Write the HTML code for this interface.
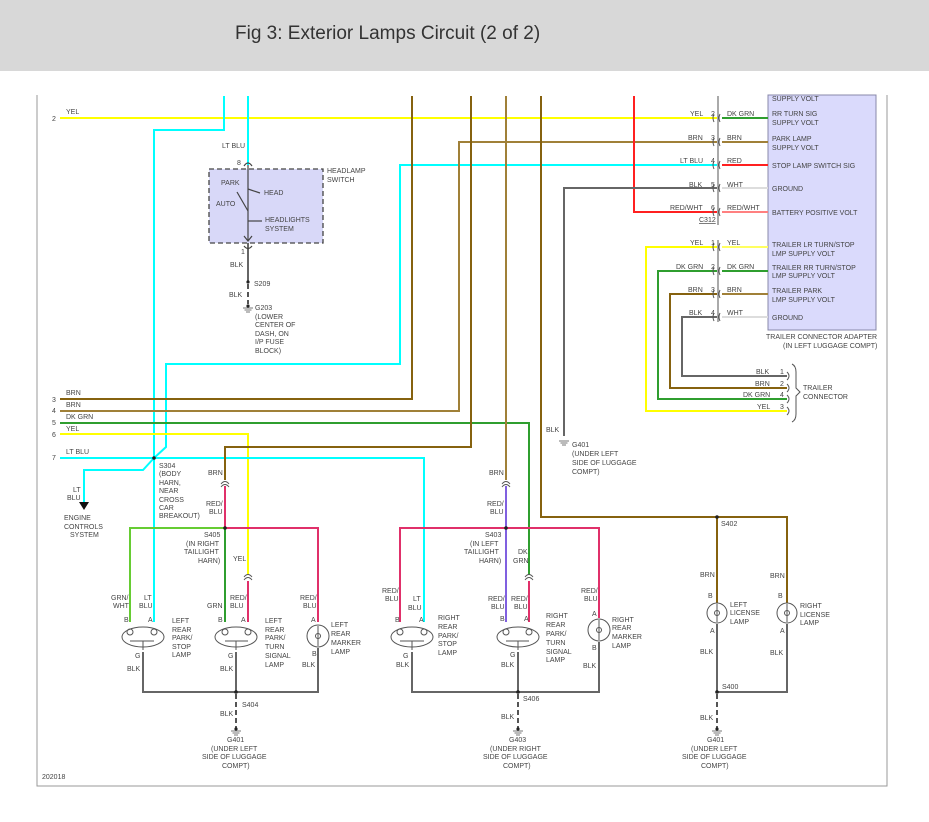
<!DOCTYPE html>
<html><head><meta charset="utf-8"><style>
html,body{margin:0;padding:0;background:#fff;}
svg{display:block;}
text{font-family:"Liberation Sans",sans-serif;font-size:7px;fill:#444;}
.t{font-size:19px;fill:#333;}
</style></head><body>
<svg width="929" height="822" viewBox="0 0 929 822" xmlns="http://www.w3.org/2000/svg">
<rect x="0" y="0" width="929" height="71" fill="#d8d8d8"/>
<text class="t" x="235" y="39">Fig 3: Exterior Lamps Circuit (2 of 2)</text>
<!-- frame -->
<path d="M37 95 V786 H887 V95" fill="none" stroke="#999" stroke-width="1"/>

<!-- trailer adapter box -->
<rect x="768" y="95" width="108" height="235" fill="#dadafc" stroke="#8888aa" stroke-width="1"/>

<g fill="none" stroke-width="2">
<!-- row 2 yellow -->
<path d="M60 118 H717" stroke="#ffff00"/>
<!-- LT BLU big -->
<path d="M224 96 V130 H154 V622" stroke="#00ffff"/>
<path d="M248 96 V165" stroke="#00ffff"/>
<!-- cyan from stop lamp -->
<path d="M717 165 H400 V364 H166 V447 L154 458" stroke="#00ffff"/>
<!-- row 3 BRN -->
<path d="M412 96 V399 H60" stroke="#86620f"/>
<!-- row 4 BRN -->
<path d="M717 142 H459 V411 H60" stroke="#a08038"/>
<!-- row 5 DK GRN -->
<path d="M60 423 H529 V575" stroke="#2f9e2f"/>
<!-- row 6 YEL -->
<path d="M60 434 H248 V575" stroke="#ffff00"/>
<!-- row 7 LT BLU -->
<path d="M60 458 H424 V622" stroke="#00ffff"/>
<path d="M154 458 L143 470 H84 V502" stroke="#00ffff"/>
<!-- BRN to left taillight -->
<path d="M471 96 V447 H225 V480" stroke="#86620f"/>
<path d="M506 96 V480" stroke="#a08038"/>
<path d="M541 96 V517 H787 V603" stroke="#86620f"/>
<path d="M717 517 V603" stroke="#86620f"/>
<!-- red battery -->
<path d="M634 96 V212 H717" stroke="#ff2020"/>
<!-- BLK ground -->
<path d="M717 188 H564 V436" stroke="#666"/>
<!-- lower connectors -->
<path d="M717 247 H646 V411 H787" stroke="#ffff00"/>
<path d="M717 271 H658 V399 H787" stroke="#2f9e2f"/>
<path d="M717 294 H670 V388 H787" stroke="#86620f"/>
<path d="M717 317 H682 V376 H787" stroke="#666"/>
<!-- right of C312 -->
<path d="M722 118 H768" stroke="#2f9e2f"/>
<path d="M722 142 H768" stroke="#a08038"/>
<path d="M722 165 H768" stroke="#ff2020"/>
<path d="M722 188 H768" stroke="#ddd"/>
<path d="M722 212 H768" stroke="#ff8080"/>
<path d="M722 247 H768" stroke="#ffff60"/>
<path d="M722 271 H768" stroke="#2f9e2f"/>
<path d="M722 294 H768" stroke="#a08038"/>
<path d="M722 317 H768" stroke="#ddd"/>
<!-- left taillight harness -->
<path d="M225 486 V528" stroke="#e0306a"/>
<path d="M225 528 H130 V622" stroke="#66cc33"/>
<path d="M225 528 V622" stroke="#2f9e2f"/>
<path d="M225 528 H318 V622" stroke="#e0306a"/>
<path d="M248 581 V622" stroke="#e0306a"/>
<!-- right taillight harness -->
<path d="M506 486 V622" stroke="#8060e0"/>
<path d="M506 528 H400 V622" stroke="#e0306a"/>
<path d="M506 528 H599 V618" stroke="#e0306a"/>
<path d="M529 581 V622" stroke="#e0306a"/>
<!-- grounds -->
<path d="M143 652 V692 H318 V648" stroke="#666"/>
<path d="M236 652 V692" stroke="#666"/>
<path d="M412 652 V692 H599 V642" stroke="#666"/>
<path d="M518 652 V692" stroke="#666"/>
<path d="M717 624 V692 H787 V624" stroke="#666"/>
<path d="M248 243 V282" stroke="#666"/>
</g>
<!-- dashed ground leads -->
<g stroke="#555" stroke-width="2" stroke-dasharray="5,3" fill="none">
<path d="M248 284 V304"/><path d="M236 694 V728"/><path d="M518 694 V728"/><path d="M717 694 V728"/>
</g>
<!-- headlamp switch -->
<rect x="209" y="169" width="114" height="74" fill="#d8d8f8" stroke="#444" stroke-width="1.3" stroke-dasharray="5,3"/>
<g stroke="#444" stroke-width="1.2" fill="none">
<path d="M248 165 V240"/><path d="M248 189 L260 193"/><path d="M237 192 L248 211"/><path d="M248 221 H262"/>
<path d="M244 236 L248 241 L252 236"/><path d="M244 166 Q248 160 252 166"/><path d="M244 246 Q248 251 252 246"/>
</g>
<!-- ground symbols -->
<g stroke="#777" stroke-width="1">
<path d="M243 308 H253 M244.5 310 H251.5 M246 312 H250"/>
<path d="M231 731 H241 M232.5 733 H239.5 M234 735 H238"/>
<path d="M513 731 H523 M514.5 733 H521.5 M516 735 H520"/>
<path d="M712 731 H722 M713.5 733 H720.5 M715 735 H719"/>
<path d="M559 441 H569 M560.5 443 H567.5 M562 445 H566"/>
</g>
<!-- dots -->
<g fill="#222">
<circle cx="248" cy="282" r="1.6"/><circle cx="248" cy="306" r="1.6"/><circle cx="154" cy="458" r="1.8"/>
<circle cx="225" cy="528" r="1.8"/><circle cx="506" cy="528" r="1.8"/><circle cx="717" cy="517" r="1.8"/>
<circle cx="236" cy="692" r="1.8"/><circle cx="518" cy="692" r="1.8"/><circle cx="717" cy="692" r="1.8"/>
<circle cx="236" cy="729" r="1.6"/><circle cx="518" cy="729" r="1.6"/><circle cx="717" cy="729" r="1.6"/>
</g>
<path d="M79 502 H89 L84 510 Z" fill="#111"/>
<!-- inline connector arcs -->
<g stroke="#555" stroke-width="1" fill="none">
<path d="M221 484 Q225 479 229 484 M221 487 Q225 482 229 487"/>
<path d="M502 484 Q506 479 510 484 M502 487 Q506 482 510 487"/>
<path d="M244 577 Q248 572 252 577 M244 580 Q248 575 252 580"/>
<path d="M525 577 Q529 572 533 577 M525 580 Q529 575 533 580"/>
<!-- C312 stack -->
<path d="M718 96 V225"/><path d="M718 240 V322"/>
<path d="M714 114 Q712 118 714 122 M720 114 Q718 118 720 122"/>
<path d="M714 138 Q712 142 714 146 M720 138 Q718 142 720 146"/>
<path d="M714 161 Q712 165 714 169 M720 161 Q718 165 720 169"/>
<path d="M714 184 Q712 188 714 192 M720 184 Q718 188 720 192"/>
<path d="M714 208 Q712 212 714 216 M720 208 Q718 212 720 216"/>
<path d="M714 243 Q712 247 714 251 M720 243 Q718 247 720 251"/>
<path d="M714 267 Q712 271 714 275 M720 267 Q718 271 720 275"/>
<path d="M714 290 Q712 294 714 298 M720 290 Q718 294 720 298"/>
<path d="M714 313 Q712 317 714 321 M720 313 Q718 317 720 321"/>
<!-- trailer connector -->
<path d="M787 372 Q791 376 787 380 M787 384 Q791 388 787 392 M787 395 Q791 399 787 403 M787 407 Q791 411 787 415"/>
<path d="M792 364 Q796 366 796 372 V388 L800 392 L796 396 V414 Q796 420 792 422"/>
</g>
<!-- lamps -->
<g stroke="#555" stroke-width="1" fill="none">
<ellipse cx="143" cy="637" rx="21" ry="10"/><ellipse cx="236" cy="637" rx="21" ry="10"/>
<ellipse cx="412" cy="637" rx="21" ry="10"/><ellipse cx="518" cy="637" rx="21" ry="10"/>
<circle cx="318" cy="636" r="11"/><circle cx="599" cy="630" r="11"/>
<circle cx="717" cy="613" r="10"/><circle cx="787" cy="613" r="10"/>
<circle cx="130" cy="632" r="3"/><circle cx="154" cy="632" r="3"/><path d="M130 641 H154 M143 641 V650"/>
<circle cx="225" cy="632" r="3"/><circle cx="248" cy="632" r="3"/><path d="M225 641 H248 M236 641 V650"/>
<circle cx="400" cy="632" r="3"/><circle cx="424" cy="632" r="3"/><path d="M400 641 H424 M412 641 V650"/>
<circle cx="506" cy="632" r="3"/><circle cx="529" cy="632" r="3"/><path d="M506 641 H529 M518 641 V650"/>
<path d="M318 626 V646"/><path d="M599 620 V640"/><path d="M717 604 V622"/><path d="M787 604 V622"/>
<circle cx="318" cy="636" r="2.5"/><circle cx="599" cy="630" r="2.5"/><circle cx="717" cy="613" r="2.5"/><circle cx="787" cy="613" r="2.5"/>
</g>
<!-- labels -->
<text x="52" y="121">2</text><text x="66" y="114">YEL</text>
<text x="52" y="402">3</text><text x="66" y="395">BRN</text>
<text x="52" y="413">4</text><text x="66" y="407">BRN</text>
<text x="52" y="425">5</text><text x="66" y="419">DK GRN</text>
<text x="52" y="437">6</text><text x="66" y="431">YEL</text>
<text x="52" y="460">7</text><text x="66" y="454">LT BLU</text>
<text x="222" y="148">LT BLU</text><text x="237" y="165">8</text>
<text x="327" y="173">HEADLAMP</text><text x="327" y="182">SWITCH</text>
<text x="221" y="185">PARK</text><text x="264" y="195">HEAD</text><text x="216" y="206">AUTO</text>
<text x="265" y="222">HEADLIGHTS</text><text x="265" y="231">SYSTEM</text>
<text x="241" y="254">1</text><text x="230" y="267">BLK</text><text x="254" y="286">S209</text>
<text x="229" y="297">BLK</text><text x="255" y="310">G203</text><text x="255" y="319">(LOWER</text>
<text x="255" y="327">CENTER OF</text><text x="255" y="336">DASH, ON</text><text x="255" y="344">I/P FUSE</text><text x="255" y="353">BLOCK)</text>
<text x="159" y="468">S304</text><text x="159" y="476">(BODY</text><text x="159" y="485">HARN,</text><text x="159" y="493">NEAR</text>
<text x="159" y="502">CROSS</text><text x="159" y="510">CAR</text><text x="159" y="518">BREAKOUT)</text>
<text x="73" y="492">LT</text><text x="67" y="500">BLU</text>
<text x="64" y="520">ENGINE</text><text x="64" y="529">CONTROLS</text><text x="70" y="537">SYSTEM</text>
<text x="208" y="475">BRN</text><text x="206" y="506">RED/</text><text x="209" y="514">BLU</text>
<text x="204" y="537">S405</text><text x="186" y="546">(IN RIGHT</text><text x="184" y="554">TAILLIGHT</text><text x="198" y="563">HARN)</text>
<text x="233" y="561">YEL</text>
<text x="111" y="600">GRN/</text><text x="113" y="608">WHT</text><text x="144" y="600">LT</text><text x="139" y="608">BLU</text>
<text x="207" y="608">GRN</text><text x="230" y="600">RED/</text><text x="230" y="608">BLU</text>
<text x="300" y="600">RED/</text><text x="303" y="608">BLU</text>
<text x="124" y="622">B</text><text x="148" y="622">A</text><text x="218" y="622">B</text><text x="241" y="622">A</text><text x="311" y="622">A</text>
<text x="172" y="623">LEFT</text><text x="172" y="632">REAR</text><text x="172" y="640">PARK/</text><text x="172" y="649">STOP</text><text x="172" y="657">LAMP</text>
<text x="265" y="623">LEFT</text><text x="265" y="632">REAR</text><text x="265" y="640">PARK/</text><text x="265" y="649">TURN</text><text x="265" y="658">SIGNAL</text><text x="265" y="667">LAMP</text>
<text x="331" y="627">LEFT</text><text x="331" y="636">REAR</text><text x="331" y="645">MARKER</text><text x="331" y="654">LAMP</text>
<text x="135" y="658">G</text><text x="228" y="658">G</text><text x="312" y="656">B</text>
<text x="127" y="671">BLK</text><text x="220" y="671">BLK</text><text x="302" y="667">BLK</text>
<text x="242" y="707">S404</text><text x="220" y="716">BLK</text>
<text x="227" y="742">G401</text><text x="211" y="751">(UNDER LEFT</text><text x="202" y="759">SIDE OF LUGGAGE</text><text x="222" y="768">COMPT)</text>
<text x="489" y="475">BRN</text><text x="487" y="506">RED/</text><text x="490" y="514">BLU</text>
<text x="485" y="537">S403</text><text x="470" y="546">(IN LEFT</text><text x="464" y="554">TAILLIGHT</text><text x="479" y="563">HARN)</text>
<text x="518" y="554">DK</text><text x="513" y="563">GRN</text>
<text x="382" y="593">RED/</text><text x="385" y="601">BLU</text><text x="413" y="601">LT</text><text x="408" y="610">BLU</text>
<text x="488" y="601">RED/</text><text x="491" y="609">BLU</text><text x="511" y="601">RED/</text><text x="514" y="609">BLU</text>
<text x="581" y="593">RED/</text><text x="584" y="601">BLU</text>
<text x="395" y="622">B</text><text x="419" y="622">A</text><text x="500" y="621">B</text><text x="524" y="621">A</text><text x="592" y="616">A</text>
<text x="438" y="620">RIGHT</text><text x="438" y="629">REAR</text><text x="438" y="638">PARK/</text><text x="438" y="646">STOP</text><text x="438" y="655">LAMP</text>
<text x="546" y="618">RIGHT</text><text x="546" y="627">REAR</text><text x="546" y="636">PARK/</text><text x="546" y="645">TURN</text><text x="546" y="654">SIGNAL</text><text x="546" y="662">LAMP</text>
<text x="612" y="622">RIGHT</text><text x="612" y="630">REAR</text><text x="612" y="639">MARKER</text><text x="612" y="648">LAMP</text>
<text x="403" y="658">G</text><text x="510" y="657">G</text><text x="592" y="650">B</text>
<text x="396" y="667">BLK</text><text x="501" y="667">BLK</text><text x="583" y="668">BLK</text>
<text x="523" y="701">S406</text><text x="501" y="719">BLK</text>
<text x="509" y="742">G403</text><text x="490" y="751">(UNDER RIGHT</text><text x="483" y="759">SIDE OF LUGGAGE</text><text x="503" y="768">COMPT)</text>
<text x="721" y="526">S402</text>
<text x="700" y="577">BRN</text><text x="770" y="578">BRN</text>
<text x="708" y="598">B</text><text x="778" y="598">B</text><text x="710" y="633">A</text><text x="780" y="633">A</text>
<text x="730" y="607">LEFT</text><text x="730" y="615">LICENSE</text><text x="730" y="624">LAMP</text>
<text x="800" y="608">RIGHT</text><text x="800" y="617">LICENSE</text><text x="800" y="625">LAMP</text>
<text x="700" y="654">BLK</text><text x="770" y="655">BLK</text>
<text x="722" y="689">S400</text><text x="700" y="720">BLK</text>
<text x="707" y="742">G401</text><text x="691" y="751">(UNDER LEFT</text><text x="682" y="759">SIDE OF LUGGAGE</text><text x="701" y="768">COMPT)</text>
<text x="546" y="432">BLK</text>
<text x="572" y="447">G401</text><text x="572" y="456">(UNDER LEFT</text><text x="572" y="465">SIDE OF LUGGAGE</text><text x="572" y="474">COMPT)</text>
<text x="42" y="779">202018</text>
<!-- C312 labels -->
<text x="690" y="116">YEL</text><text x="711" y="116">2</text><text x="727" y="116">DK GRN</text>
<text x="688" y="140">BRN</text><text x="711" y="140">3</text><text x="727" y="140">BRN</text>
<text x="680" y="163">LT BLU</text><text x="711" y="163">4</text><text x="727" y="163">RED</text>
<text x="689" y="187">BLK</text><text x="711" y="187">5</text><text x="727" y="187">WHT</text>
<text x="670" y="210">RED/WHT</text><text x="711" y="210">6</text><text x="727" y="210">RED/WHT</text>
<text x="699" y="222" text-decoration="underline">C312</text>
<text x="690" y="245">YEL</text><text x="711" y="245">1</text><text x="727" y="245">YEL</text>
<text x="676" y="269">DK GRN</text><text x="711" y="269">2</text><text x="727" y="269">DK GRN</text>
<text x="688" y="292">BRN</text><text x="711" y="292">3</text><text x="727" y="292">BRN</text>
<text x="689" y="315">BLK</text><text x="711" y="315">4</text><text x="727" y="315">WHT</text>
<text x="772" y="101">SUPPLY VOLT</text>
<text x="772" y="116">RR TURN SIG</text><text x="772" y="125">SUPPLY VOLT</text>
<text x="772" y="141">PARK LAMP</text><text x="772" y="150">SUPPLY VOLT</text>
<text x="772" y="168">STOP LAMP SWITCH SIG</text>
<text x="772" y="191">GROUND</text>
<text x="772" y="215">BATTERY POSITIVE VOLT</text>
<text x="772" y="247">TRAILER LR TURN/STOP</text><text x="772" y="256">LMP SUPPLY VOLT</text>
<text x="772" y="270">TRAILER RR TURN/STOP</text><text x="772" y="278">LMP SUPPLY VOLT</text>
<text x="772" y="293">TRAILER PARK</text><text x="772" y="302">LMP SUPPLY VOLT</text>
<text x="772" y="320">GROUND</text>
<text x="766" y="339">TRAILER CONNECTOR ADAPTER</text><text x="783" y="348">(IN LEFT LUGGAGE COMPT)</text>
<text x="756" y="374">BLK</text><text x="780" y="374">1</text>
<text x="755" y="386">BRN</text><text x="780" y="386">2</text>
<text x="743" y="397">DK GRN</text><text x="780" y="397">4</text>
<text x="757" y="409">YEL</text><text x="780" y="409">3</text>
<text x="803" y="390">TRAILER</text><text x="803" y="399">CONNECTOR</text>
</svg>
</body></html>
